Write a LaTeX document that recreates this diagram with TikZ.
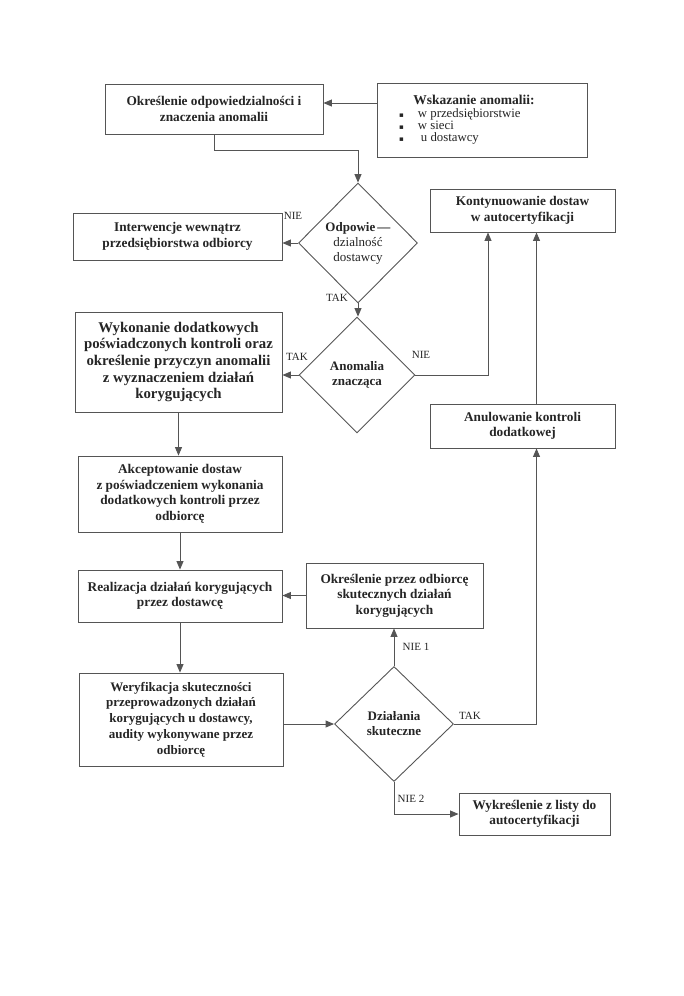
\documentclass[tikz,border=0pt]{standalone}
\usepackage{fontspec}
\setmainfont{Liberation Serif}
\newfontfamily\symfont{DejaVu Sans}
\usetikzlibrary{shapes.geometric,arrows.meta}
\definecolor{linec}{HTML}{555555}
\definecolor{textc}{HTML}{252525}
\begin{document}
\begin{tikzpicture}[x=1pt,y=-1pt,
  box/.style={draw=linec, line width=0.9pt, inner sep=0pt, align=center, text=textc, font=\bfseries\fontsize{13.3}{15.5}\selectfont},
  dia/.style={draw=linec, line width=0.9pt, diamond, aspect=1, inner sep=0pt, align=center, text=textc, font=\bfseries\fontsize{13}{15}\selectfont},
  arr/.style={draw=linec, line width=0.9pt, -{Triangle[length=8.5pt,width=7pt]}},
  lbl/.style={text=textc, font=\fontsize{11}{11}\selectfont, inner sep=0pt}]
\fill[white] (0,0) rectangle (683,996);
\useasboundingbox (0,0) rectangle (683,996);

% boxes
\node[box, minimum width=218pt, minimum height=50pt] (okr) at (214,109) {Określenie odpowiedzialności i\\znaczenia anomalii};
\node[box, minimum width=210pt, minimum height=74pt] (wsk) at (482,120) {};
\node[font=\bfseries\fontsize{13.5}{14}\selectfont, text=textc, inner sep=0pt] (wskh) at (474,100) {Wskazanie anomalii:};
\node[anchor=north west, inner sep=0pt, text=textc, font=\fontsize{12.8}{11.8}\selectfont] (wskl) at (399,108)
  {\begin{tabular}{@{}l@{\hspace{14pt}}l@{}}
   {\symfont\fontsize{7}{7}\selectfont ▪} & w przedsiębiorstwie\\
   {\symfont\fontsize{7}{7}\selectfont ▪} & w sieci\\
   {\symfont\fontsize{7}{7}\selectfont ▪} & \hspace{3pt}u dostawcy
   \end{tabular}};

\node[dia, minimum width=119pt, minimum height=120pt] (d1) at (358,243) {Odpowie\,—\\{\mdseries dzialność}\\{\mdseries dostawcy}};
\node[box, minimum width=209pt, minimum height=47pt] (int) at (177.5,236.5) {Interwencje wewnątrz\\przedsiębiorstwa odbiorcy};
\node[box, minimum width=185pt, minimum height=43pt] (kont) at (522.5,210.5) {Kontynuowanie dostaw\\w autocertyfikacji};

\node[dia, minimum width=116pt, minimum height=116pt] (d2) at (357,375) {Anomalia\\znacząca};
\node[box, minimum width=207pt, minimum height=100pt, font=\bfseries\fontsize{14.8}{16.7}\selectfont] (wyk) at (178.5,362) {Wykonanie dodatkowych\\poświadczonych kontroli oraz\\określenie przyczyn anomalii\\z wyznaczeniem działań\\korygujących};
\node[box, minimum width=185pt, minimum height=44pt] (anul) at (522.5,426) {Anulowanie kontroli\\dodatkowej};

\node[box, minimum width=204pt, minimum height=76pt] (akc) at (180,494) {Akceptowanie dostaw\\z poświadczeniem wykonania\\dodatkowych kontroli przez\\odbiorcę};
\node[box, minimum width=204pt, minimum height=52pt] (real) at (180,596) {Realizacja działań korygujących\\przez dostawcę};
\node[box, minimum width=177pt, minimum height=65pt] (okp) at (394.5,595.5) {Określenie przez odbiorcę\\skutecznych działań\\korygujących};

\node[box, minimum width=204pt, minimum height=93pt, font=\bfseries\fontsize{13}{15.8}\selectfont] (wer) at (181,719.5) {Weryfikacja skuteczności\\przeprowadzonych działań\\korygujących u dostawcy,\\audity wykonywane przez\\odbiorcę};
\node[dia, minimum width=119pt, minimum height=115pt] (d3) at (394,724) {Działania\\skuteczne};
\node[box, minimum width=151pt, minimum height=42pt] (wykr) at (534.5,814) {Wykreślenie z listy do\\autocertyfikacji};

% connectors
\draw[arr] ([yshift=6pt]okr.east -| wsk.west) -- ([yshift=6pt]okr.east);
\draw[arr] (okr.south) -- ++(0,16) -| (d1.north);
\draw[arr] (d1.west) -- (d1.west -| int.east);
\draw[arr] (d1.south) -- (d1.south |- d2.north);
\draw[arr] (d2.west) -- (d2.west -| wyk.east);
\draw[arr] (d2.east) -| ([xshift=-34.5pt]kont.south);
\draw[arr] ([xshift=14pt]anul.north) -- ([xshift=14pt]kont.south);
\draw[arr] (wyk.south) -- (wyk.south |- akc.north);
\draw[arr] (akc.south) -- (akc.south |- real.north);
\draw[arr] (real.south) -- (real.south |- wer.north);
\draw[arr] (okp.west) -- (okp.west -| real.east);
\draw[arr] (wer.east |- d3.west) -- (d3.west);
\draw[arr] (d3.north) -- (d3.north |- okp.south);
\draw[arr] (d3.east) -| ([xshift=14pt]anul.south);
\draw[arr] (d3.south) |- (wykr.west);

% labels
\node[lbl] (l1) at (293,216) {NIE};
\node[lbl] (l2) at (337,298) {TAK};
\node[lbl] (l3) at (297,357) {TAK};
\node[lbl] (l4) at (421,355) {NIE};
\node[lbl] (l5) at (416,647) {NIE 1};
\node[lbl] (l6) at (470,716) {TAK};
\node[lbl] (l7) at (411,799) {NIE 2};
\end{tikzpicture}
\end{document}
